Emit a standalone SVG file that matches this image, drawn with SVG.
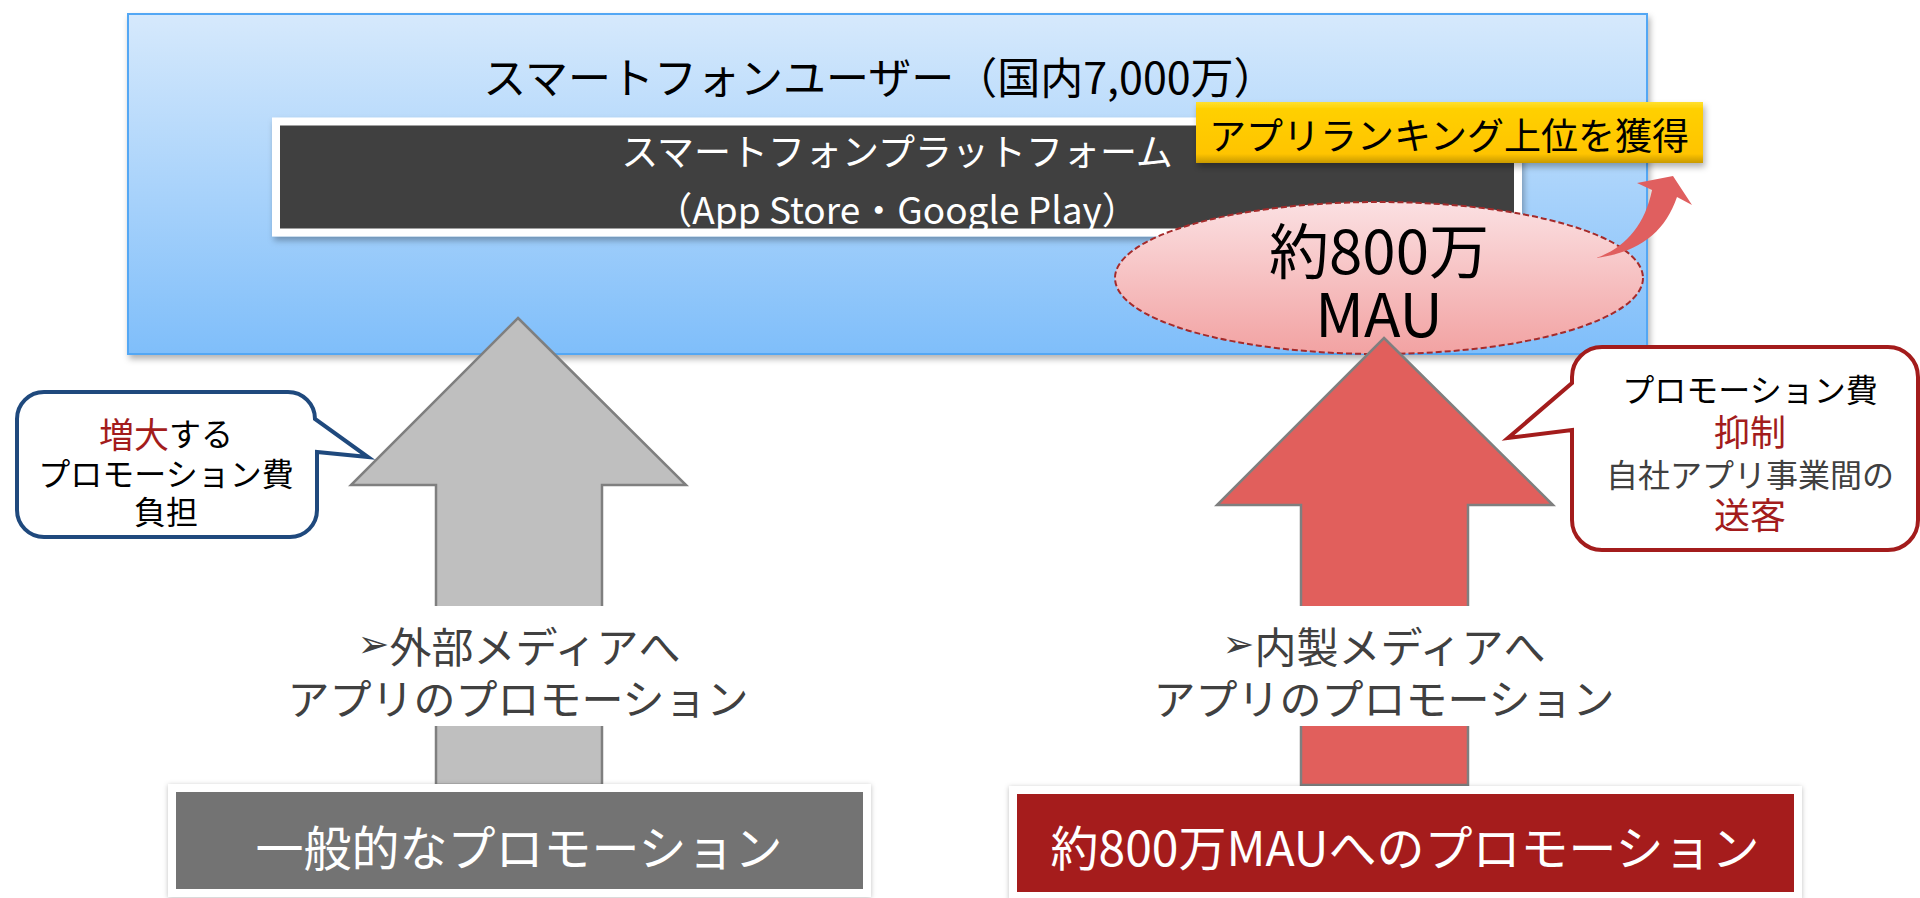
<svg xmlns="http://www.w3.org/2000/svg" width="1920" height="898" viewBox="0 0 1920 898">
<style>
text{font-family:"Noto Sans CJK JP","Noto Sans",sans-serif;text-anchor:middle;dominant-baseline:central}
.blk{fill:#000}
.wht{fill:#fff}
.dg{fill:#404040}
.red{fill:#a31c1c}
.arrowTxt{font-size:42px;fill:#404040}
.mark{font-family:"DejaVu Sans",sans-serif;font-size:38px;fill:#404040}
.bigArrow{stroke:#7f7f7f;stroke-width:2.5;stroke-linejoin:miter}
</style>
<defs>
<linearGradient id="gBlue" x1="0" y1="0" x2="0" y2="1">
<stop offset="0" stop-color="#d6e9fc"/>
<stop offset="1" stop-color="#7fbefa"/>
</linearGradient>
<linearGradient id="gPink" x1="0" y1="0" x2="0" y2="1">
<stop offset="0" stop-color="#fbe0e2"/>
<stop offset="1" stop-color="#f2a2a2"/>
</linearGradient>
<linearGradient id="gGold" x1="0" y1="0" x2="0" y2="1">
<stop offset="0" stop-color="#ffe030"/>
<stop offset="0.12" stop-color="#ffd000"/>
<stop offset="0.85" stop-color="#ffc400"/>
<stop offset="1" stop-color="#c99a00"/>
</linearGradient>
<filter id="shadow" x="-5%" y="-10%" width="110%" height="130%">
<feDropShadow dx="2" dy="4" stdDeviation="3" flood-color="#000" flood-opacity="0.3"/>
</filter>
<filter id="glow" x="-5%" y="-10%" width="110%" height="130%">
<feDropShadow dx="0" dy="1" stdDeviation="2.5" flood-color="#000" flood-opacity="0.25"/>
</filter>
</defs>
<rect width="1920" height="898" fill="#fff"/>

<g id="users">
<rect x="128" y="14" width="1519" height="340" fill="url(#gBlue)" stroke="#52a7f4" stroke-width="2" filter="url(#shadow)"/>
<text x="880" y="75" font-size="43" class="blk">スマートフォンユーザー（国内7,000万）</text>
</g>

<g id="platform">
<rect x="276" y="121.5" width="1242" height="111" fill="#404040" stroke="#fff" stroke-width="8" filter="url(#shadow)"/>
<text font-size="37" class="wht"><tspan x="897" y="150">スマートフォンプラットフォーム</tspan><tspan x="897" y="208">（App Store・Google Play）</tspan></text>
</g>

<g id="mau">
<ellipse cx="1379" cy="278" rx="264" ry="76" fill="url(#gPink)" stroke="#a52a2a" stroke-width="2" stroke-dasharray="6 3"/>
<text font-size="60" class="blk"><tspan x="1379" y="247">約800万</tspan><tspan x="1379" y="310">MAU</tspan></text>
</g>

<g id="ranking">
<rect x="1196" y="102" width="507" height="61" fill="url(#gGold)" filter="url(#shadow)"/>
<text x="1449" y="134" font-size="37" class="blk">アプリランキング上位を獲得</text>
</g>

<g id="connectors">
<path d="M1596,258 C1625,248 1645,225 1652,190 L1637,183 L1673,176 L1692,205 L1677,197 C1665,232 1640,252 1596,258 Z" fill="#e05f5f"/>
<path class="bigArrow" d="M518,318 L686,485 L602,485 L602,785 L436,785 L436,485 L351,485 Z" fill="#bfbfbf"/>
<path class="bigArrow" d="M1384,338 L1553,505 L1468,505 L1468,785 L1301,785 L1301,505 L1217,505 Z" fill="#e15f5c"/>
</g>

<g id="label-external">
<rect x="425" y="606" width="190" height="120" fill="#fff"/>
<text class="arrowTxt"><tspan x="519" y="644"><tspan class="mark">➢</tspan>外部メディアへ</tspan><tspan x="518" y="696">アプリのプロモーション</tspan></text>
</g>

<g id="label-internal">
<rect x="1290" y="606" width="190" height="120" fill="#fff"/>
<text class="arrowTxt"><tspan x="1384" y="644"><tspan class="mark">➢</tspan>内製メディアへ</tspan><tspan x="1384" y="696">アプリのプロモーション</tspan></text>
</g>

<g id="callout-left">
<path d="M44,392 H288 A27,27 0 0 1 315,419 L368,457 L317,452 V510 A27,27 0 0 1 290,537 H44 A27,27 0 0 1 17,510 V419 A27,27 0 0 1 44,392 Z" fill="#fff" stroke="#1f497d" stroke-width="4"/>
<text font-size="32" class="blk"><tspan x="166" y="432"><tspan class="red" font-size="35">増大</tspan>する</tspan><tspan x="166" y="472">プロモーション費</tspan><tspan x="166" y="510">負担</tspan></text>
</g>

<g id="callout-right">
<path d="M1602,347 H1888 A30,30 0 0 1 1918,377 V520 A30,30 0 0 1 1888,550 H1602 A30,30 0 0 1 1572,520 V430 L1508,438 L1572,383 V377 A30,30 0 0 1 1602,347 Z" fill="#fff" stroke="#a31c1c" stroke-width="4"/>
<text font-size="32" class="blk"><tspan x="1750" y="388">プロモーション費</tspan><tspan x="1750" y="430" font-size="36" class="red">抑制</tspan><tspan x="1750" y="473" class="dg">自社アプリ事業間の</tspan><tspan x="1750" y="513" font-size="36" class="red">送客</tspan></text>
</g>

<g id="general-promo">
<rect x="172" y="788" width="695" height="105" fill="#737373" stroke="#fff" stroke-width="8" filter="url(#glow)"/>
<text x="519" y="845" font-size="48" class="wht">一般的なプロモーション</text>
</g>

<g id="mau-promo">
<rect x="1013" y="790" width="785" height="106" fill="#a51d1c" stroke="#fff" stroke-width="8" filter="url(#glow)"/>
<text x="1405" y="845" font-size="48" class="wht">約800万MAUへのプロモーション</text>
</g>
</svg>
